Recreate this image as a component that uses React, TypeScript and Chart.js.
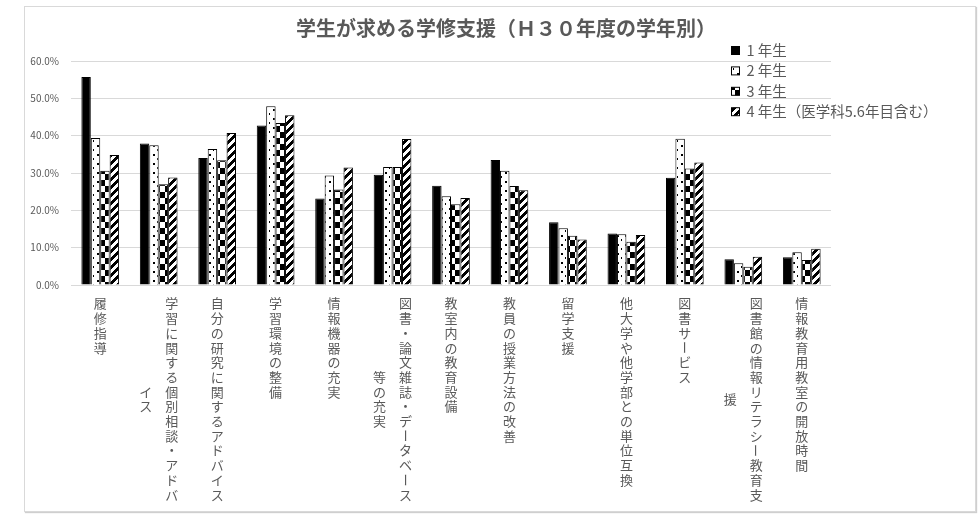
import React, { useEffect, useRef } from "react";
import { Chart, registerables } from "chart.js";

Chart.register(...registerables);

const title = "学生が求める学修支援（Ｈ３０年度の学年別）";

const categories = [
  "履修指導",
  "学習に関する個別相談・アドバイス",
  "自分の研究に関するアドバイス",
  "学習環境の整備",
  "情報機器の充実",
  "図書・論文雑誌・データベース等の充実",
  "教室内の教育設備",
  "教員の授業方法の改善",
  "留学支援",
  "他大学や他学部との単位互換",
  "図書サービス",
  "図書館の情報リテラシー教育支援",
  "情報教育用教室の開放時間",
];

const seriesNames = ["1 年生", "2 年生", "3 年生", "4 年生（医学科5.6年目含む）"];

const year1 = [55.7, 37.9, 34.0, 42.7, 23.2, 29.5, 26.6, 33.5, 16.8, 13.8, 28.7, 6.9, 7.4];
const year2 = [39.4, 37.4, 36.4, 47.9, 29.3, 31.6, 23.8, 30.6, 15.2, 13.6, 39.2, 5.8, 8.8];
const year3 = [30.6, 27.0, 33.4, 43.4, 25.6, 31.6, 21.6, 26.5, 13.2, 11.6, 31.2, 4.9, 6.7];
const year4 = [34.8, 28.8, 40.7, 45.5, 31.5, 39.1, 23.3, 25.4, 12.2, 13.4, 32.8, 7.6, 9.7];

const yTicks = [0, 10, 20, 30, 40, 50, 60];

const FONT = '"Noto Sans CJK JP", "Noto Sans", sans-serif';
const TEXT = "#595959";

function makeTile(w: number, h: number, draw: (c: CanvasRenderingContext2D) => void) {
  const cv = document.createElement("canvas");
  cv.width = w;
  cv.height = h;
  const c = cv.getContext("2d")!;
  c.fillStyle = "#fff";
  c.fillRect(0, 0, w, h);
  c.fillStyle = "#000";
  draw(c);
  return c.createPattern(cv, "repeat") as CanvasPattern;
}

function buildFills(): (string | CanvasPattern)[] {
  const dots = makeTile(8, 9, (c) => {
    c.fillRect(1, 1, 2, 2);
    c.fillRect(5, 5, 1, 2);
  });
  const checker = makeTile(10, 12, (c) => {
    c.fillRect(0, 0, 5, 6);
    c.fillRect(5, 6, 5, 6);
  });
  const stripes = makeTile(8, 8, (c) => {
    for (let x = 0; x < 8; x++)
      for (let y = 0; y < 8; y++) if ((x + y) % 8 < 4) c.fillRect(x, y, 1, 1);
  });
  return ["#000", dots, checker, stripes];
}

const MAX_COL = 14;

const decorPlugin = {
  id: "decor",
  afterDraw(chart: any) {
    const { ctx, chartArea } = chart;
    const xs = chart.scales.x;
    ctx.save();

    // title
    ctx.fillStyle = TEXT;
    ctx.font = `bold 20px ${FONT}`;
    ctx.textAlign = "center";
    ctx.textBaseline = "middle";
    ctx.fillText(title, 506, 28);

    // vertical category labels
    ctx.font = `13px ${FONT}`;
    const pitch = 14.7;
    const colGap = 26;
    chart.data.labels.forEach((lab: string, i: number) => {
      const chars = Array.from(lab);
      const cols: string[][] = [];
      for (let k = 0; k < chars.length; k += MAX_COL) cols.push(chars.slice(k, k + MAX_COL));
      const longest = Math.max(...cols.map((c) => c.length));
      const cx = xs.getPixelForValue(i);
      cols.forEach((col, k) => {
        const x = cx + ((cols.length - 1) * colGap) / 2 - k * colGap;
        const off = ((longest - col.length) * pitch) / 2;
        col.forEach((ch, j) => {
          const y = chartArea.bottom + 18.5 + off + j * pitch;
          if (ch === "ー") {
            ctx.save();
            ctx.translate(x, y);
            ctx.rotate(Math.PI / 2);
            ctx.fillText(ch, 0, 0);
            ctx.restore();
          } else {
            ctx.fillText(ch, x, y);
          }
        });
      });
    });

    // legend
    ctx.font = `14.5px ${FONT}`;
    ctx.textAlign = "left";
    chart.data.datasets.forEach((ds: any, i: number) => {
      const y = 50.5 + i * 20.4;
      ctx.fillStyle = ds.backgroundColor;
      ctx.fillRect(731.5, y - 4, 8, 8);
      ctx.strokeStyle = "#000";
      ctx.lineWidth = 1;
      ctx.strokeRect(731.5, y - 4, 8, 8);
      ctx.fillStyle = TEXT;
      ctx.fillText(ds.label, 746.5, y);
    });
    ctx.restore();
  },
};

export default function App() {
  const ref = useRef<HTMLCanvasElement>(null);

  useEffect(() => {
    if (!ref.current) return;
    const fills = buildFills();
    const values = [year1, year2, year3, year4];
    const chart = new Chart(ref.current, {
      type: "bar",
      data: {
        labels: categories,
        datasets: values.map((v, i) => ({
          label: seriesNames[i],
          data: v,
          backgroundColor: fills[i] as any,
          borderColor: "#000",
          borderWidth: 1,
          categoryPercentage: 0.645,
          barPercentage: 1,
        })),
      },
      options: {
        responsive: false,
        animation: false,
        layout: { padding: { left: 0, top: 61, right: 149, bottom: 229 } },
        plugins: {
          legend: { display: false },
          title: { display: false },
          tooltip: { enabled: false },
        },
        scales: {
          x: { display: false },
          y: {
            min: 0,
            max: 60,
            afterFit: (s: any) => {
              s.width = 71;
            },
            afterBuildTicks: (s: any) => {
              s.ticks = yTicks.map((v) => ({ value: v }));
            },
            grid: { color: "#d9d9d9", lineWidth: 1, drawTicks: false },
            border: { display: false },
            ticks: {
              padding: 12,
              color: TEXT,
              font: { family: FONT, size: 10 },
              callback: (v: any) => Number(v).toFixed(1) + "%",
            },
          },
        },
      },
      plugins: [decorPlugin],
    });
    return () => chart.destroy();
  }, []);

  return (
    <div style={{ position: "fixed", left: 0, top: 0, width: 980, height: 514, background: "#fff" }}>
      <div
        style={{
          position: "absolute",
          left: 24,
          top: 6,
          width: 952,
          height: 506,
          boxSizing: "border-box",
          border: "1px solid #d9d9d9",
          boxShadow: "1px 1px 1px #cfcfcf",
        }}
      />
      <canvas
        ref={ref}
        width={980}
        height={514}
        style={{ position: "absolute", left: 0, top: 0, width: 980, height: 514 }}
      />
    </div>
  );
}
